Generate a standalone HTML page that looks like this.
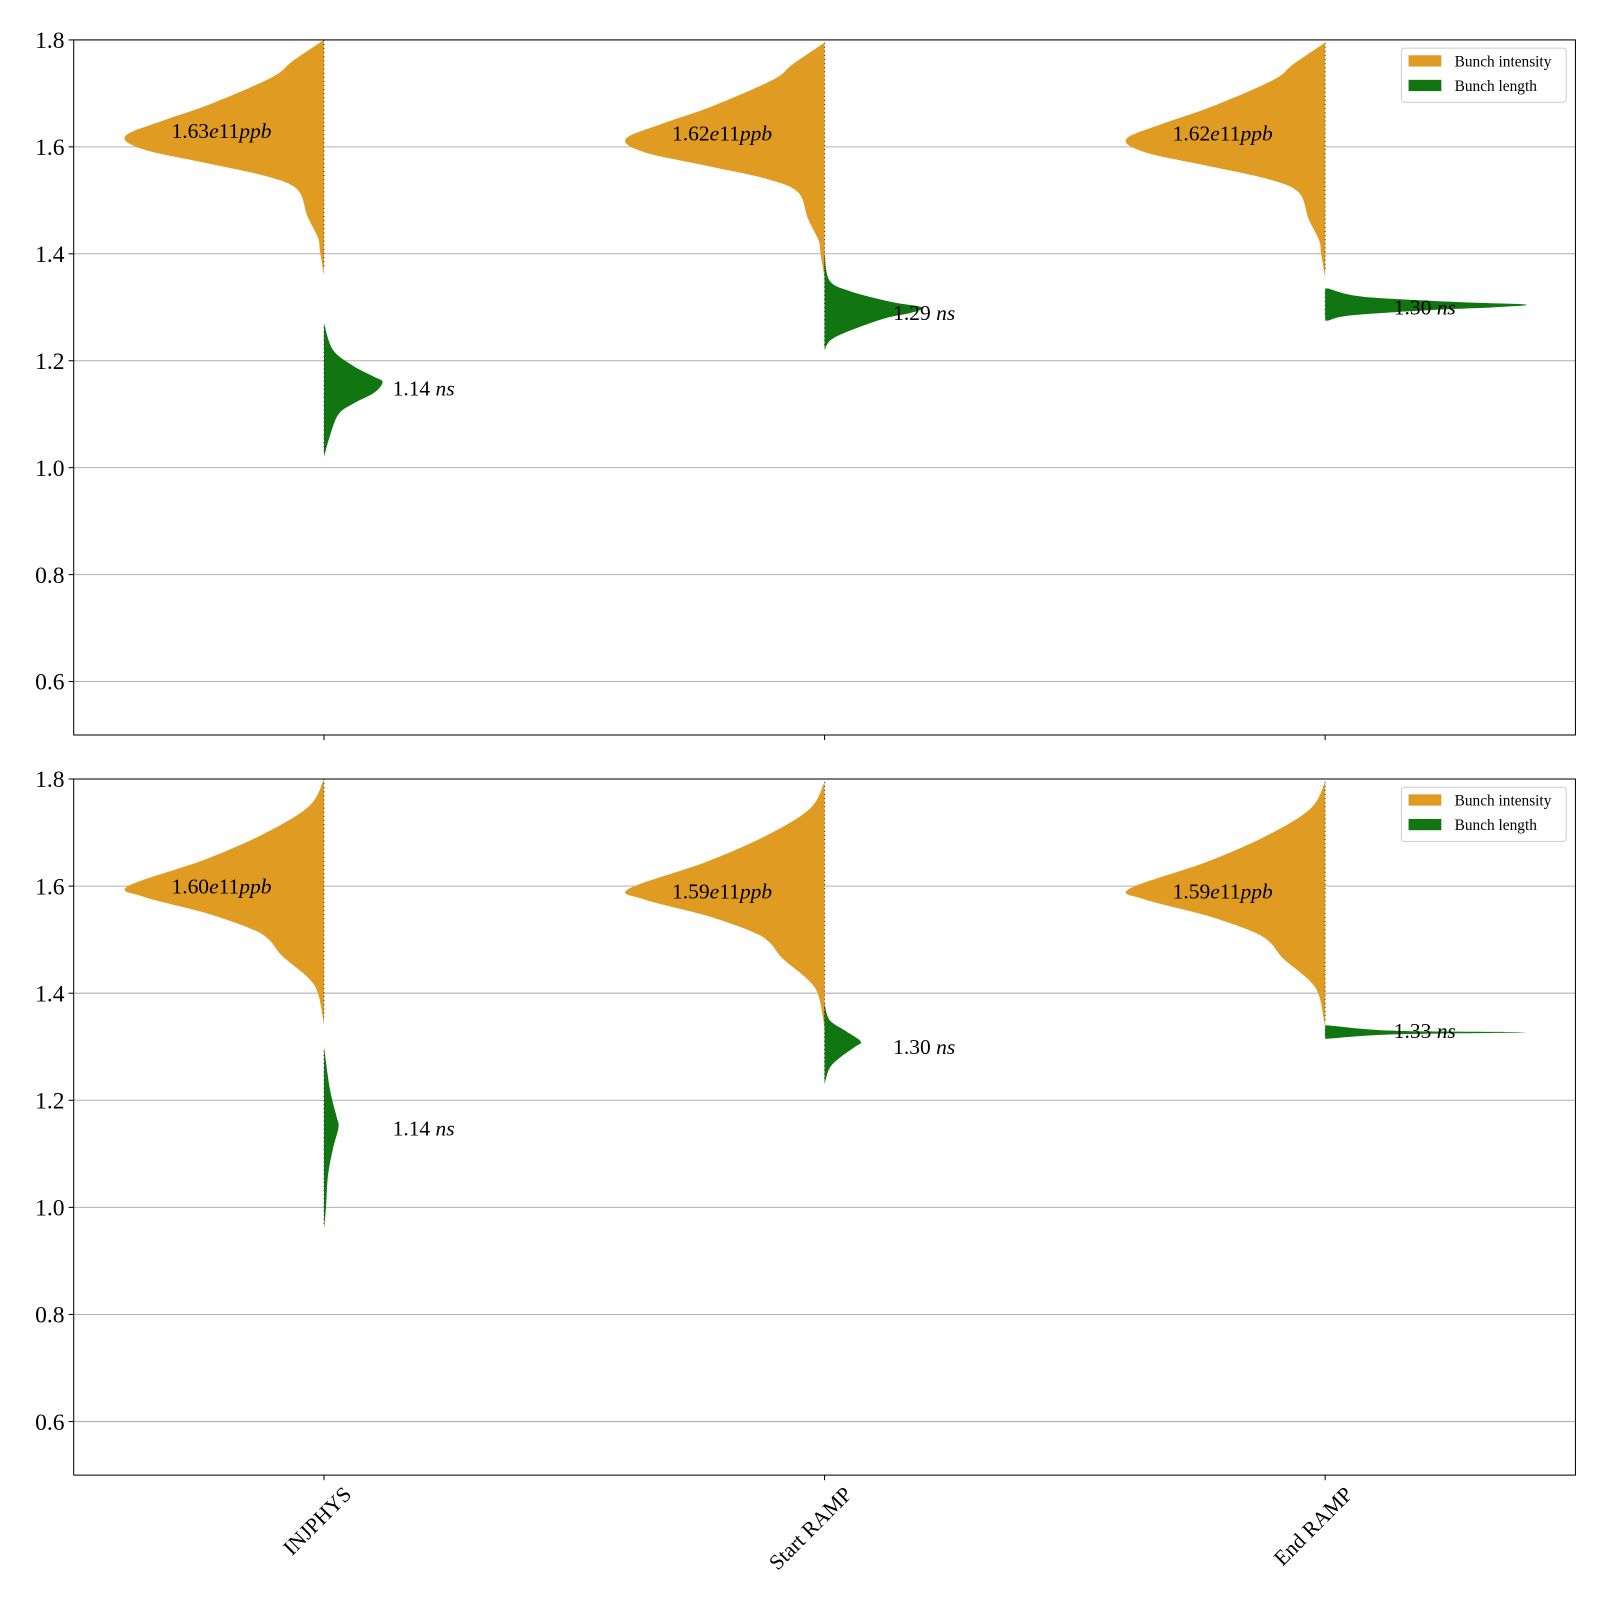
<!DOCTYPE html>
<html><head><meta charset="utf-8"><style>
body{margin:0;background:#fff}
text{font-family:"Liberation Serif","DejaVu Serif",serif}
</style></head><body>
<svg id="chart" width="1600" height="1600" viewBox="0 0 1563 1563" xmlns="http://www.w3.org/2000/svg"></svg>
<script>
const categories = ["INJPHYS","Start RAMP","End RAMP"];
const yTicks = [0.6,0.8,1.0,1.2,1.4,1.6,1.8];
// violin profiles: values (y) and half-widths (category units x100)
const topIntVals = [1.80,1.76,1.73,1.68,1.65,1.62,1.595,1.57,1.545,1.52,1.47,1.43,1.405,1.36];
const topIntW = [0,6.3,10.4,22.7,31.9,39.7,36.0,23.7,11.5,5.3,3.3,1.2,0.8,0];
const botIntVals = [1.80,1.75,1.70,1.65,1.60,1.58,1.55,1.52,1.50,1.47,1.43,1.40,1.34];
const botIntW = [0,2.9,11.5,23.7,39.1,36.0,23.7,14.5,11.0,8.4,3.3,1.2,0];
const lenVals = [
 [1.27,1.22,1.19,1.17,1.16,1.14,1.12,1.10,1.06,1.02],
 [1.40,1.35,1.33,1.31,1.30,1.29,1.28,1.26,1.24,1.22],
 [1.335,1.32,1.31,1.305,1.30,1.295,1.285,1.275],
 [1.30,1.22,1.17,1.15,1.11,1.06,1.00,0.96],
 [1.38,1.35,1.33,1.31,1.30,1.28,1.26,1.23],
 [1.34,1.33,1.327,1.323,1.315]];
const lenW = [
 [0,1.8,5.9,10.0,11.7,10.0,5.9,2.9,1.2,0],
 [0,1.0,5.1,13.3,19.4,17.4,12.3,6.1,1.4,0],
 [0.6,7.4,25.8,40.1,34.0,21.7,5.3,0.6],
 [0,1.2,2.5,2.9,1.8,0.8,0.4,0],
 [0,1.0,4.1,7.2,6.1,3.1,1.0,0],
 [0.6,13.5,40.1,13.5,0.6]];
const intShift = [[0,-0.005,-0.005],[0,-0.005,-0.005]];
const intLabels = [["1.63","1.62","1.62"],["1.60","1.59","1.59"]];
const intLabelVals = [[1.63,1.625,1.625],[1.60,1.59,1.59]];
const lenLabels = [["1.14","1.29","1.30"],["1.14","1.30","1.33"]];
const lenLabelVals = [[1.148,1.29,1.30],[1.148,1.30,1.33]];

const svg=document.getElementById('chart');
const NS='http://www.w3.org/2000/svg';
function mk(t,a,p){const e=document.createElementNS(NS,t);for(const k in a)e.setAttribute(k,a[k]);(p||svg).appendChild(e);return e;}
function smooth(pts){
  let d='M'+pts[0][0]+','+pts[0][1];
  for(let i=0;i<pts.length-1;i++){
    const p0=pts[Math.max(0,i-1)],p1=pts[i],p2=pts[i+1],p3=pts[Math.min(pts.length-1,i+2)];
    const c1=[p1[0]+(p2[0]-p0[0])/6,p1[1]+(p2[1]-p0[1])/6];
    const c2=[p2[0]-(p3[0]-p1[0])/6,p2[1]-(p3[1]-p1[1])/6];
    d+=` C${c1[0]},${c1[1]} ${c2[0]},${c2[1]} ${p2[0]},${p2[1]}`;
  }
  return d;
}
const X0=72,X1=1539;
const xS=c=>X0+(c+0.5)/3*(X1-X0);
const panels=[{y0:39,y1:718},{y0:761,y1:1441}];
panels.forEach((P,pi)=>{
  const yS=v=>P.y1-(v-0.5)/1.3*(P.y1-P.y0);
  const g=mk('g',{});
  
  
  yTicks.forEach(t=>{
    const l=mk('line',{x1:X0,x2:X1,y1:yS(t),y2:yS(t),stroke:'#b0b0b0','stroke-width':1},g);
    
    
    const tk=mk('line',{x1:X0-5,x2:X0,y1:yS(t),y2:yS(t),stroke:'#000'},g);
    
    
    const tx=mk('text',{x:X0-9,y:yS(t)+8,'text-anchor':'end','font-size':23},g);
    tx.textContent=t.toFixed(1);
    
    
  });
  categories.forEach((c,ci)=>{
    const cx=xS(ci);
    const vals=pi==0?topIntVals:botIntVals, w=pi==0?topIntW:botIntW;
    const pts=vals.map((v,i)=>[cx-w[i]/100*489,yS(v+intShift[pi][ci])]);
    const pI=mk('path',{d:smooth(pts)+' Z',fill:'#e09c22'},g);
    
    
    const k=pi*3+ci, lv=lenVals[k], lw=lenW[k];
    const pts2=lv.map((v,i)=>[cx+lw[i]/100*489,yS(v)]);
    const d2='M'+cx+','+yS(lv[0])+' L'+smooth(pts2).slice(1)+' L'+cx+','+yS(lv[lv.length-1])+' Z';
    const pL=mk('path',{d:d2,fill:'#117511'},g);
    
    
    const st=mk('line',{x1:cx,x2:cx,y1:yS(vals[0]+intShift[pi][ci]),y2:yS(vals[vals.length-1]+intShift[pi][ci])-8,stroke:'#333','stroke-width':1,'stroke-dasharray':'1,3'},g);
    
    
    const st2=mk('line',{x1:cx,x2:cx,y1:yS(lv[0])+4,y2:yS(lv[lv.length-1])-4,stroke:'#333','stroke-width':1,'stroke-dasharray':'1,3'},g);
    
    
    const t1=mk('text',{x:cx-149,y:yS(intLabelVals[pi][ci])+7,'font-size':21},g);
    t1.innerHTML=intLabels[pi][ci]+'<tspan font-style="italic">e</tspan>11<tspan font-style="italic">ppb</tspan>';
    
    
    const t2=mk('text',{x:cx+67,y:yS(lenLabelVals[pi][ci])+7,'font-size':21},g);
    t2.innerHTML=lenLabels[pi][ci]+' <tspan font-style="italic">ns</tspan>';
    
    
    const xt=mk('line',{x1:cx,x2:cx,y1:P.y1,y2:P.y1+5,stroke:'#000'},g);
    
    
    if(pi==1){
      const xl=mk('text',{x:cx+28,y:P.y1+20,'text-anchor':'end','font-size':21,transform:`rotate(-45 ${cx+28} ${P.y1+20})`},g);
      xl.textContent=c;
      
      
    }
  });
  const fr=mk('rect',{x:X0,y:P.y0,width:X1-X0,height:P.y1-P.y0,fill:'none',stroke:'#000','stroke-width':1},g);
  
  
  const lg=mk('g',{},g);
  
  
  mk('rect',{x:1369,y:P.y0+8,width:161,height:53,rx:3,fill:'#fff','fill-opacity':0.8,stroke:'#ccc'},lg);
  mk('rect',{x:1376,y:P.y0+15,width:32,height:11,fill:'#e09c22'},lg);
  mk('rect',{x:1376,y:P.y0+39,width:32,height:11,fill:'#117511'},lg);
  const a=mk('text',{x:1421,y:P.y0+26,'font-size':15},lg);a.textContent='Bunch intensity';
  
  
  const b=mk('text',{x:1421,y:P.y0+50,'font-size':15},lg);b.textContent='Bunch length';
  
  
});
</script>
</body></html>
